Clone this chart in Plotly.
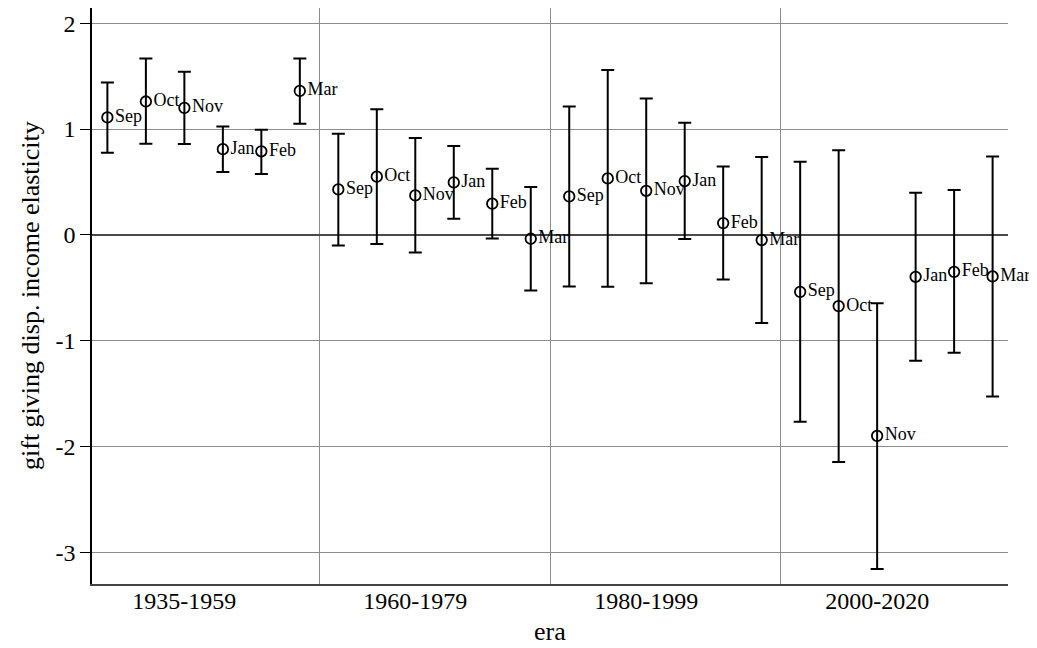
import plotly.graph_objects as go

eras = ["1935-1959", "1960-1979", "1980-1999", "2000-2020"]
months = ["Sep", "Oct", "Nov", "Jan", "Feb", "Mar"]

est_1935 = [1.11, 1.26, 1.20, 0.81, 0.79, 1.36]
lo_1935 = [0.775, 0.862, 0.859, 0.594, 0.575, 1.05]
hi_1935 = [1.44, 1.665, 1.542, 1.025, 0.994, 1.665]

est_1960 = [0.43, 0.55, 0.373, 0.496, 0.295, -0.036]
lo_1960 = [-0.099, -0.086, -0.165, 0.153, -0.033, -0.524]
hi_1960 = [0.956, 1.186, 0.915, 0.84, 0.625, 0.452]

est_1980 = [0.364, 0.534, 0.417, 0.509, 0.112, -0.048]
lo_1980 = [-0.486, -0.489, -0.455, -0.039, -0.42, -0.832]
hi_1980 = [1.214, 1.557, 1.289, 1.06, 0.647, 0.736]

est_2000 = [-0.537, -0.672, -1.897, -0.395, -0.348, -0.392]
lo_2000 = [-1.765, -2.143, -3.154, -1.188, -1.113, -1.525]
hi_2000 = [0.692, 0.799, -0.644, 0.399, 0.424, 0.741]

y_ticks = [-3, -2, -1, 0, 1, 2]
y_ticklabels = ["-3", "-2", "-1", "0", "1", "2"]

x_title = "era"
y_title = "gift giving disp. income elasticity"

est_all = [est_1935, est_1960, est_1980, est_2000]
lo_all = [lo_1935, lo_1960, lo_1980, lo_2000]
hi_all = [hi_1935, hi_1960, hi_1980, hi_2000]

FONT = "Liberation Serif"
n = len(months)

fig = go.Figure()
for i, era in enumerate(eras):
    xs = [i * n + j for j in range(n)]
    est = est_all[i]
    fig.add_trace(go.Scatter(
        x=xs, y=est,
        mode="markers+text",
        text=months,
        textposition="middle right",
        textfont=dict(family=FONT, size=18, color="black"),
        marker=dict(symbol="circle-open", size=10.5, color="black",
                    line=dict(width=1.8, color="black")),
        error_y=dict(type="data", symmetric=False,
                     array=[h - e for h, e in zip(hi_all[i], est)],
                     arrayminus=[e - l for e, l in zip(est, lo_all[i])],
                     color="black", thickness=2, width=6.5),
        showlegend=False,
        cliponaxis=False,
        name=era,
    ))

fig.update_layout(
    width=1037, height=648,
    margin=dict(l=84, r=37, t=0, b=72, autoexpand=False),
    paper_bgcolor="white", plot_bgcolor="white",
    font=dict(family=FONT, color="black", size=22),
    xaxis=dict(
        range=[-0.4, 4 * n - 0.6],
        tickvals=[i * n + 2 for i in range(len(eras))],
        ticktext=eras,
        ticks="", showgrid=False,
        minor=dict(tickvals=[i * n - 0.5 for i in range(1, len(eras))],
                   showgrid=True, gridcolor="#8c8c8c", gridwidth=1.3, ticks=""),
        showline=True, linecolor="#444444", linewidth=1.5,
        zeroline=False, automargin=False,
        ticklabelstandoff=-6,
        tickfont=dict(family=FONT, size=24, color="black"),
    ),
    yaxis=dict(
        range=[-3.296, 2.143],
        tickvals=y_ticks, ticktext=y_ticklabels,
        ticks="outside", ticklen=10, tickcolor="black", tickwidth=1.3,
        showgrid=True, gridcolor="#8c8c8c", gridwidth=1.3,
        zeroline=True, zerolinecolor="#4a4a4a", zerolinewidth=1.6,
        showline=True, linecolor="black", linewidth=1.5,
        automargin=False,
        tickfont=dict(family=FONT, size=24, color="black"),
    ),
    annotations=[
        dict(text=x_title, xref="paper", yref="paper", x=0.5, y=0,
             xanchor="center", yanchor="middle", yshift=-47, showarrow=False,
             font=dict(family=FONT, size=26, color="black")),
        dict(text=y_title, xref="paper", yref="paper", x=0, y=0.5,
             xanchor="center", yanchor="middle", xshift=-62, textangle=-90,
             showarrow=False, font=dict(family=FONT, size=26, color="black")),
    ],
)

fig.write_html("out.html")
